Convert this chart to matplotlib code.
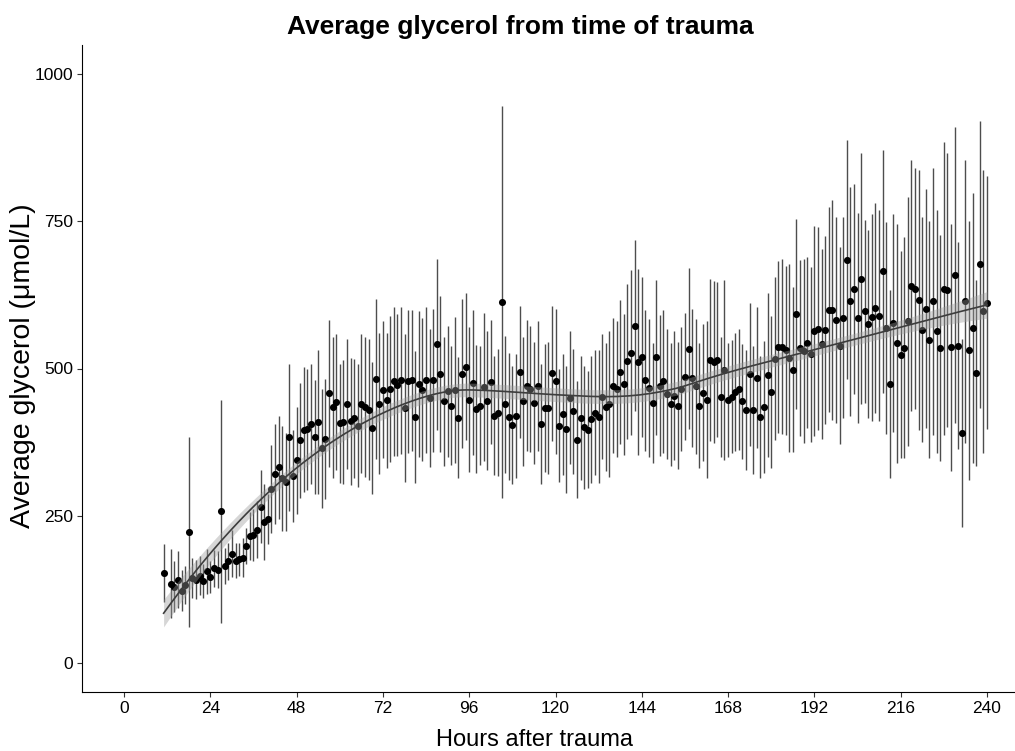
import numpy as np
import matplotlib
matplotlib.use("Agg")
import matplotlib.pyplot as plt

plt.rcParams["font.family"] = ["Liberation Sans", "DejaVu Sans"]

hours = [11] + list(range(13, 241))

glycerol = [152, 134, 129, 141, 122, 132, 222, 144, 141, 148, 138, 155, 146, 160, 158,
            257, 164, 172, 185, 173, 176, 178, 198, 215, 217, 226, 265, 239, 244, 295,
            321, 332, 313, 307, 383, 317, 344, 378, 396, 397, 406, 384, 409, 364, 380,
            458, 434, 443, 407, 409, 440, 410, 415, 403, 440, 434, 430, 399, 482, 440,
            464, 446, 465, 478, 472, 480, 433, 478, 480, 418, 473, 464, 480, 450, 480,
            541, 491, 444, 461, 437, 464, 416, 491, 503, 447, 476, 431, 437, 468, 445,
            477, 420, 425, 613, 439, 418, 404, 419, 494, 444, 471, 465, 441, 470, 406,
            433, 433, 492, 478, 403, 422, 397, 450, 427, 379, 416, 400, 396, 414, 425,
            418, 452, 434, 439, 471, 465, 494, 473, 512, 527, 573, 511, 519, 480, 467,
            442, 519, 471, 478, 457, 439, 454, 437, 465, 486, 534, 484, 470, 437, 459,
            447, 514, 511, 515, 451, 497, 446, 452, 460, 465, 444, 430, 490, 430, 484,
            418, 435, 489, 460, 517, 536, 537, 531, 518, 498, 593, 535, 530, 544, 524,
            564, 568, 542, 565, 600, 600, 583, 539, 586, 685, 614, 635, 586, 653, 597,
            575, 587, 603, 590, 665, 569, 474, 577, 543, 523, 535, 580, 641, 636, 617,
            566, 602, 549, 614, 563, 535, 636, 633, 536, 659, 539, 391, 614, 531, 569,
            493, 677, 597, 612]

error = [49, 59, 43, 48, 35, 33, 162, 34, 33, 33, 29, 38, 27, 32, 32,
         189, 30, 31, 40, 30, 28, 33, 31, 41, 44, 48, 62, 65, 43, 75,
         85, 88, 89, 84, 125, 78, 91, 98, 106, 103, 102, 97, 122, 101, 102,
         125, 120, 116, 101, 105, 111, 108, 102, 105, 118, 119, 120, 112, 136, 120,
         116, 115, 124, 126, 120, 125, 126, 122, 120, 112, 124, 122, 124, 118, 122,
         146, 133, 109, 111, 101, 124, 103, 127, 125, 123, 123, 109, 101, 126, 118,
         106, 101, 108, 334, 116, 108, 101, 106, 113, 109, 111, 107, 104, 111, 102,
         109, 112, 115, 123, 96, 103, 108, 113, 106, 99, 105, 105, 99, 108, 106,
         113, 106, 109, 124, 115, 116, 122, 120, 132, 140, 146, 158, 136, 120, 118,
         102, 132, 120, 122, 111, 105, 109, 108, 105, 108, 137, 118, 115, 106, 116,
         133, 138, 137, 132, 102, 153, 97, 96, 101, 103, 98, 102, 122, 109, 120,
         104, 112, 139, 130, 138, 146, 149, 144, 160, 140, 162, 149, 157, 146, 149,
         178, 172, 162, 160, 174, 187, 175, 167, 171, 203, 194, 178, 178, 213, 156,
         160, 176, 179, 179, 207, 180, 160, 185, 203, 176, 188, 211, 213, 205, 221,
         191, 204, 202, 227, 207, 192, 249, 233, 210, 251, 176, 160, 240, 220, 230,
         158, 244, 240, 215]

x_ticks = [0, 24, 48, 72, 96, 120, 144, 168, 192, 216, 240]
y_ticks = [0, 250, 500, 750, 1000]


def loess_matrix(x, xs, span):
    n = len(x)
    k = int(np.ceil(span * n))
    L = np.empty((len(xs), n))
    for j, x0 in enumerate(xs):
        d = np.abs(x - x0)
        h = np.sort(d)[k - 1]
        w = np.clip(1 - (d / h) ** 3, 0, None) ** 3
        X = np.column_stack([np.ones(n), x - x0, (x - x0) ** 2])
        W = X * w[:, None]
        L[j] = (np.linalg.pinv(X.T @ W) @ W.T)[0]
    return L


def loess(x, y, xg, span=0.75):
    x = np.asarray(x, float)
    y = np.asarray(y, float)
    n = len(x)
    L = loess_matrix(x, xg, span)
    Lf = loess_matrix(x, x, span)
    res = y - Lf @ y
    sigma = np.sqrt(np.sum(res ** 2) / (n - np.trace(Lf)))
    return L @ y, sigma * np.sqrt(np.sum(L ** 2, axis=1))


fig = plt.figure(figsize=(10.15, 7.51), dpi=100)
ax = fig.add_axes([82 / 1015, 1 - 692 / 751, 933 / 1015, 647 / 751])

g = np.array(glycerol, float)
e = np.array(error, float)
ax.vlines(hours, g - e, g + e, color="#4d4d4d", linewidth=1.0, zorder=2)
ax.scatter(hours, glycerol, s=26, color="black", zorder=3, linewidths=0)

xg = np.linspace(min(hours), max(hours), 300)
fit, se = loess(hours, glycerol, xg, span=0.75)
ax.fill_between(xg, fit - 1.97 * se, fit + 1.97 * se, color="#999999", alpha=0.4,
                linewidth=0, zorder=4)
ax.plot(xg, fit, color="#3d3d3d", linewidth=1.2, zorder=5)

ax.set_xlim(-11.7, 247.8)
ax.set_ylim(-50, 1050)
ax.set_xticks(x_ticks)
ax.set_yticks(y_ticks)
ax.tick_params(axis="both", labelsize=12.5, length=3.5, width=0.8, color="#333333",
               labelcolor="black", pad=3)
for s in ["top", "right"]:
    ax.spines[s].set_visible(False)
for s in ["left", "bottom"]:
    ax.spines[s].set_color("black")
    ax.spines[s].set_linewidth(0.8)

ax.set_xlabel("Hours after trauma", fontsize=17)
ax.xaxis.set_label_coords((534 - 82) / 933, (692 - 740) / 647)
ax.xaxis.label.set_va("center")
ax.set_ylabel("Average glycerol (\u03bcmol/L)", fontsize=20.5)
ax.yaxis.set_label_coords((23 - 82) / 933, (692 - 366) / 647)
ax.yaxis.label.set_va("center")
fig.text(520 / 1015, 1 - 27 / 751, "Average glycerol from time of trauma", fontsize=19,
         fontweight="bold", ha="center", va="center")

fig.savefig("out.png", dpi=100)
